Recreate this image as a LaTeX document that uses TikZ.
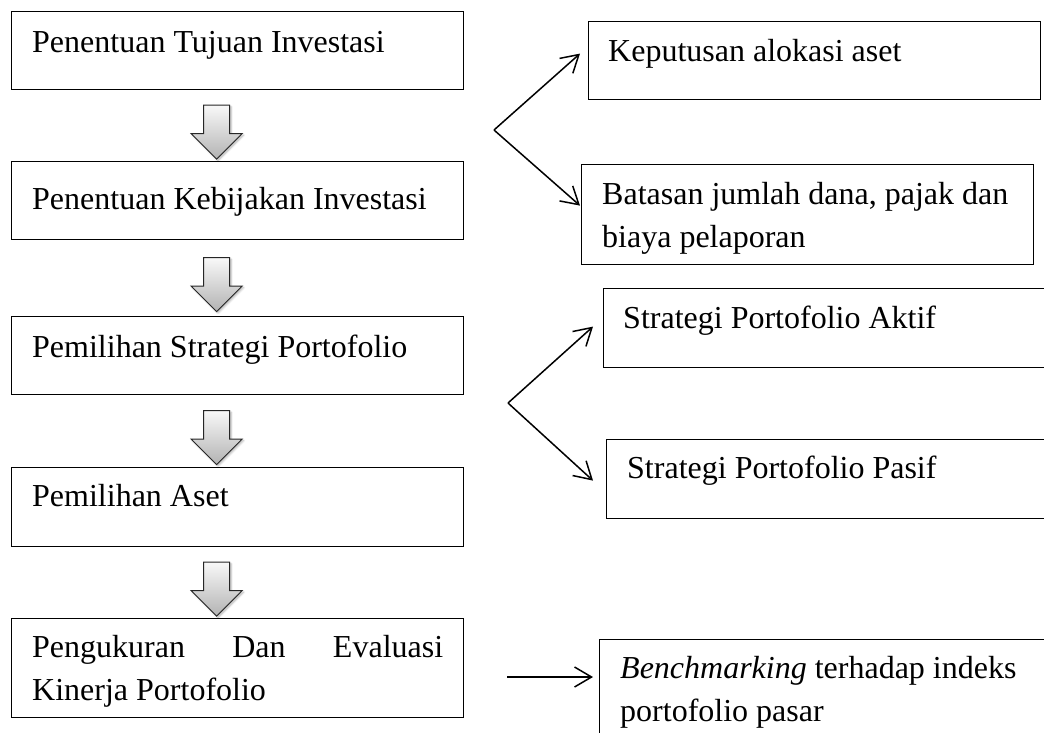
\documentclass[tikz,border=0pt]{standalone}
\usepackage{fontspec}
\setmainfont{Liberation Serif}
\usetikzlibrary{arrows.meta,shapes.arrows,shadows.blur,calc}
\begin{document}
\begin{tikzpicture}[x=1pt,y=-1pt,
  box/.style={draw=black, line width=1.2pt, rectangle, anchor=north west, inner sep=0pt, minimum width=452pt},
  txt/.style={anchor=base west, inner sep=0pt, font=\fontsize{32}{43}\selectfont},
  conn/.style={line width=1.5pt, -{Straight Barb[length=17pt,width=20pt,line width=1.5pt]}},
  flow/.style={single arrow, shape border rotate=270, draw=black!85, line width=1pt,
    inner sep=12.5pt, single arrow head extend=12.5pt, minimum height=54pt, minimum width=50pt,
    top color=gray!5, bottom color=gray!60,
    blur shadow={shadow xshift=1.5pt, shadow yshift=-1.5pt, shadow opacity=30, shadow blur steps=6}}
]
\useasboundingbox (0,0) rectangle (1044,732);
\clip (0,0) rectangle (1044,732);

% left column
\node[box, minimum height=78pt] (b1) at (11,11) {};
\node[box, minimum height=78pt] (b2) at (11,161) {};
\node[box, minimum height=78pt] (b3) at (11,316) {};
\node[box, minimum height=79pt] (b4) at (11,467) {};
\node[box, minimum height=99pt] (b5) at (11,618) {};

\node[txt] (t1) at (32,52) {Penentuan Tujuan Investasi};
\node[txt] (t2) at (32,209) {Penentuan Kebijakan Investasi};
\node[txt] (t3) at (32,357) {Pemilihan Strategi Portofolio};
\node[txt] (t4) at (32,506) {Pemilihan Aset};
\node[txt, text width=411pt, align=justify] (t5) at (32,657)
  {\tolerance=10000 \hbadness=10000 Pengukuran Dan Evaluasi \mbox{Kinerja} \mbox{Portofolio}};

% block arrows
\node[flow] (a1) at ($(b1.south)!0.5!(b2.north)+(-21,0)$) {};
\node[flow] (a2) at ($(b2.south)!0.5!(b3.north)+(-21,0)$) {};
\node[flow] (a3) at ($(b3.south)!0.5!(b4.north)+(-21,0)$) {};
\node[flow] (a4) at ($(b4.south)!0.5!(b5.north)+(-21,0)$) {};

% right column
\node[box, minimum height=78pt] (r1) at (588,21) {};
\node[box, minimum height=100pt] (r2) at (581,164) {};
\node[box, minimum height=79pt, minimum width=470pt] (r3) at (603,288) {};
\node[box, minimum height=79pt, minimum width=470pt] (r4) at (606,439) {};
\node[box, minimum height=130pt, minimum width=470pt] (r5) at (599,639) {};

\node[txt] (s1) at (608,61) {Keputusan alokasi aset};
\node[txt, text width=430pt, align=flush left] (s2) at (602,204) {Batasan jumlah dana, pajak dan\\biaya pelaporan};
\node[txt] (s3) at (623,328) {Strategi Portofolio Aktif};
\node[txt] (s4) at (627,478) {Strategi Portofolio Pasif};
\node[txt, text width=420pt, align=flush left] (s5) at (620,678) {\textit{Benchmarking} terhadap indeks\\portofolio pasar};

% connectors
\coordinate (v1) at (494,130);
\coordinate (v2) at (508,403);
\coordinate (v3) at (507,677);
\draw[conn] (v1) -- ($(r1.west)+(-8,-7)$);
\draw[conn] (v1) -- ($(r2.west)+(-1,-9)$);
\draw[conn] (v2) -- ($(r3.west)+(-10,-1.5)$);
\draw[conn] (v2) -- ($(r4.west)+(-13,1.5)$);
\draw[conn] (v3) -- ($(r5.north west)+(-6,38)$);
\end{tikzpicture}
\end{document}
